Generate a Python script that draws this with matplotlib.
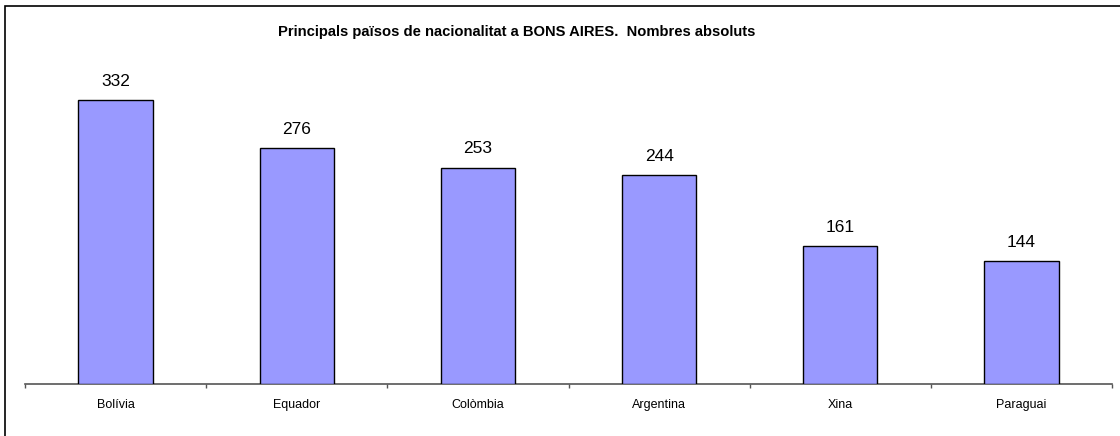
import matplotlib
matplotlib.use("Agg")
import matplotlib.pyplot as plt
from matplotlib.patches import Rectangle
import numpy as np

categories = ["Bolívia", "Equador", "Colòmbia", "Argentina", "Xina", "Paraguai"]
values = [332, 276, 253, 244, 161, 144]
title = "Principals països de nacionalitat a BONS AIRES.  Nombres absoluts"

plt.rcParams['font.family'] = ['Liberation Sans', 'DejaVu Sans']

W, H = 1120, 436
fig = plt.figure(figsize=(W / 100, H / 100), dpi=100)

# outer border (clipped at right/bottom like the reference)
fig.patches.append(Rectangle((5 / W, -0.05), 1.2, (436 - 6) / H + 0.05,
                             transform=fig.transFigure, fill=False,
                             edgecolor="#000000", linewidth=1.2))

ax_left, ax_right = 25 / W, 1112 / W
ax_bottom = (H - 384) / H
ax_top = (H - 60) / H
ax = fig.add_axes([ax_left, ax_bottom, ax_right - ax_left, ax_top - ax_bottom])

x = np.arange(len(categories))
ax.bar(x, values, width=0.41, color="#9999FF", edgecolor="#000000", linewidth=1.0, zorder=3)
ax.set_xlim(-0.5, len(categories) - 0.5)
ax.set_ylim(0, 378.8)

for xi, v in zip(x, values):
    ax.annotate(str(v), (xi, v), xytext=(0, 8), textcoords="offset points",
                ha="center", va="bottom", fontsize=12.5, color="#000000")

for s in ["top", "right", "left"]:
    ax.spines[s].set_visible(False)
ax.spines["bottom"].set_color("#555555")
ax.spines["bottom"].set_linewidth(1.2)
ax.set_yticks([])

ax.set_xticks(x)
ax.set_xticklabels(categories, fontsize=9)
ax.tick_params(axis="x", which="major", length=0, pad=11)
ax.set_xticks(np.arange(-0.5, len(categories)), minor=True)
ax.tick_params(axis="x", which="minor", length=3, width=1, color="#555555", direction="out")

fig.text(517 / W, 1 - 32 / H, title, ha="center", va="center",
         fontsize=10.6, fontweight="bold")

fig.savefig("out.png", dpi=100)
